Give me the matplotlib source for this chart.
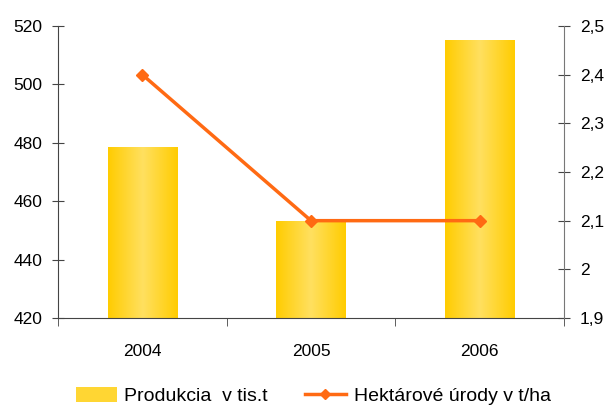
import numpy as np
import matplotlib
matplotlib.use("Agg")
import matplotlib.pyplot as plt
from matplotlib.colors import LinearSegmentedColormap
from matplotlib.patches import Patch
from matplotlib.lines import Line2D

years = ["2004", "2005", "2006"]
production = [478.5, 453, 515]
yields = [2.4, 2.1, 2.1]
left_ticks = [420, 440, 460, 480, 500, 520]
right_ticks = [1.9, 2.0, 2.1, 2.2, 2.3, 2.4, 2.5]
right_labels = ["1,9", "2", "2,1", "2,2", "2,3", "2,4", "2,5"]

plt.rcParams['font.family'] = ['Liberation Sans', 'DejaVu Sans']

fig = plt.figure(figsize=(6.09, 4.05), dpi=100)
ax = fig.add_axes([58/609, 1-318/405, (564-58)/609, (318-26)/405])
ax2 = ax.twinx()

x = np.arange(len(years))
bw = 0.41
cmap = LinearSegmentedColormap.from_list("g", ["#FFCC00", "#FFE060", "#FFCC00"])
grad = np.linspace(0, 1, 256).reshape(1, -1)
bars = ax.bar(x, production, width=bw, color="none", edgecolor="none", zorder=2)
for b in bars:
    ax.imshow(grad, cmap=cmap, aspect="auto",
              extent=[b.get_x(), b.get_x()+b.get_width(), 420, b.get_height()],
              zorder=2)
ax.set_xlim(-0.5, 2.5)
ax.set_ylim(420, 520)
ax.set_yticks(left_ticks)
ax.set_xticks(x)
ax.set_xticklabels(years)
ax.set_xticks([-0.5, 0.5, 1.5, 2.5], minor=True)
ax.tick_params(axis='x', which='major', length=0, labelsize=12.5, pad=19)
ax.tick_params(axis='x', which='minor', length=6, direction='out', color='#444444')
ax.tick_params(axis='y', length=9, direction='inout', labelsize=12.5, pad=7, color='#444444')

ax2.plot(x, yields, color="#FF6A13", lw=2.5, marker="D", ms=6, zorder=3)
ax2.set_ylim(1.9, 2.5)
ax2.set_yticks(right_ticks)
ax2.set_yticklabels(right_labels)
ax2.tick_params(axis='y', length=9, direction='inout', labelsize=12.5, pad=7, color='#444444')

for a in (ax, ax2):
    a.spines['top'].set_visible(False)
    a.spines['left'].set_color('#444444')
    a.spines['right'].set_color('#777777')
    a.spines['bottom'].set_color('#444444')
ax2.spines['left'].set_visible(False)
ax2.spines['bottom'].set_visible(False)
ax.spines['right'].set_visible(False)

handles = [Patch(facecolor="#FFD633", edgecolor="none", label="Produkcia  v tis.t"),
           Line2D([0], [0], color="#FF6A13", lw=2.5, marker="D", ms=5, label="Hektárové úrody v t/ha")]
fig.legend(handles=handles, loc="lower left", bbox_to_anchor=(68/609, -0.02), ncol=2,
           frameon=False, fontsize=14, handlelength=2.1, handleheight=0.8,
           columnspacing=1.9, handletextpad=0.4, borderaxespad=0)

fig.savefig("out.png", dpi=100)
